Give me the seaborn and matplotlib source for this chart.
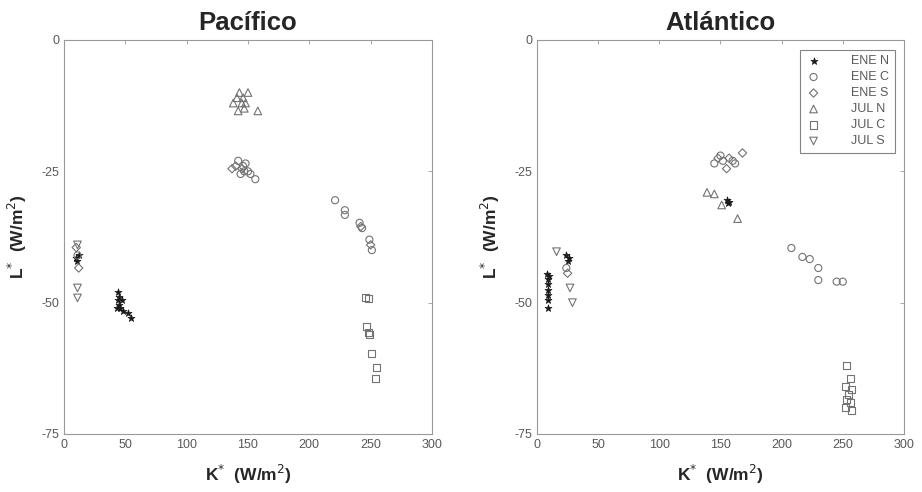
import numpy as np
import pandas as pd
import matplotlib
matplotlib.use("Agg")
import matplotlib.pyplot as plt
import seaborn as sns

# Pacífico
pac_ene_n_x = [10, 11, 12, 44, 44, 45, 46, 48, 52, 55, 43, 47, 45]
pac_ene_n_y = [-41.5, -42, -41, -48, -49.5, -50.5, -51, -51.5, -52, -53, -51, -49.5, -49]
pac_ene_c_x = [11, 142, 146, 148, 150, 144, 152, 156, 147, 221, 229, 229, 241, 243, 249, 251]
pac_ene_c_y = [-41, -23, -24, -23.5, -25, -25.5, -25.5, -26.5, -25, -30.5, -32.4, -33.3, -34.8, -35.8, -38, -40]
pac_ene_s_x = [12, 10, 137, 140, 145, 242, 250]
pac_ene_s_y = [-43.4, -39.5, -24.5, -24, -24.5, -35.5, -39]
pac_jul_n_x = [143, 150, 138, 141, 145, 148, 142, 147, 158, 146]
pac_jul_n_y = [-10, -10, -12, -11, -12, -12, -13.5, -13, -13.5, -11]
pac_jul_c_x = [246, 248, 247, 248, 249, 251, 255, 254]
pac_jul_c_y = [-49, -49.2, -54.6, -55.6, -56, -59.6, -62.4, -64.4]
pac_jul_s_x = [11, 11, 11]
pac_jul_s_y = [-39, -47.2, -49.1]

# Atlántico
atl_ene_n_x = [8, 9, 9, 9, 9, 9, 9, 10, 24, 26, 25, 155, 156, 157]
atl_ene_n_y = [-44.5, -45.5, -46.5, -47.5, -48.5, -49.5, -51, -45, -41, -41.5, -42, -30.5, -31, -30.8]
atl_ene_c_x = [150, 152, 160, 162, 145, 208, 217, 223, 230, 230, 245, 250, 24]
atl_ene_c_y = [-22, -23, -23, -23.5, -23.5, -39.6, -41.3, -41.7, -43.4, -45.7, -46, -46, -43.4]
atl_ene_s_x = [148, 155, 168, 157, 25]
atl_ene_s_y = [-22.5, -24.5, -21.5, -22.5, -44.4]
atl_jul_n_x = [139, 145, 151, 164]
atl_jul_n_y = [-29, -29.3, -31.4, -34]
atl_jul_c_x = [253, 256, 252, 257, 255, 253, 256, 252, 257]
atl_jul_c_y = [-62, -64.5, -66, -66.5, -67.5, -68.5, -69, -70, -70.5]
atl_jul_s_x = [16, 27, 29]
atl_jul_s_y = [-40.3, -47.2, -50]

groups = ["ENE N", "ENE C", "ENE S", "JUL N", "JUL C", "JUL S"]
markers = {"ENE N": "*", "ENE C": "o", "ENE S": "D", "JUL N": "^", "JUL C": "s", "JUL S": "v"}
sizes = {"ENE N": 28, "ENE C": 26, "ENE S": 18, "JUL N": 30, "JUL C": 26, "JUL S": 30}

pac = {
    "ENE N": (pac_ene_n_x, pac_ene_n_y), "ENE C": (pac_ene_c_x, pac_ene_c_y),
    "ENE S": (pac_ene_s_x, pac_ene_s_y), "JUL N": (pac_jul_n_x, pac_jul_n_y),
    "JUL C": (pac_jul_c_x, pac_jul_c_y), "JUL S": (pac_jul_s_x, pac_jul_s_y),
}
atl = {
    "ENE N": (atl_ene_n_x, atl_ene_n_y), "ENE C": (atl_ene_c_x, atl_ene_c_y),
    "ENE S": (atl_ene_s_x, atl_ene_s_y), "JUL N": (atl_jul_n_x, atl_jul_n_y),
    "JUL C": (atl_jul_c_x, atl_jul_c_y), "JUL S": (atl_jul_s_x, atl_jul_s_y),
}

sns.set_style("white")
plt.rcParams["font.family"] = ["Liberation Sans", "DejaVu Sans"]
plt.rcParams["axes.unicode_minus"] = False

fig = plt.figure(figsize=(9.22, 4.92), dpi=100)
ax1 = fig.add_axes([0.0694, 0.1179, 0.3991, 0.8008])
ax2 = fig.add_axes([0.5824, 0.1179, 0.3980, 0.8008])

spine_col = "0.6"
for ax, data, title in [(ax1, pac, "Pacífico"), (ax2, atl, "Atlántico")]:
    for g in groups:
        x, y = data[g]
        df = pd.DataFrame({"x": x, "y": y})
        if g == "ENE N":
            sns.scatterplot(data=df, x="x", y="y", ax=ax, marker=markers[g], s=sizes[g],
                            color="0.1", edgecolor="0.1", linewidth=0.5, label=g)
        else:
            sns.scatterplot(data=df, x="x", y="y", ax=ax, marker=markers[g], s=sizes[g],
                            facecolor="none", edgecolor="0.45", linewidth=0.8, label=g)
    ax.set_xlim(0, 300)
    ax.set_ylim(-75, 0)
    ax.set_xticks([0, 50, 100, 150, 200, 250, 300])
    ax.set_yticks([0, -25, -50, -75])
    ax.tick_params(direction="in", length=3, width=0.6, color=spine_col,
                   labelsize=9, labelcolor="0.35", top=True, right=True)
    for sp in ax.spines.values():
        sp.set_visible(True)
        sp.set_color(spine_col)
        sp.set_linewidth(0.8)
    ax.set_title(title, fontsize=18.5, fontweight="bold", pad=7)
    ax.set_xlabel("K$^{*}$  (W/m$^{2}$)", fontsize=12.5, fontweight="bold", labelpad=9)
    ax.set_ylabel("L$^{*}$  (W/m$^{2}$)", fontsize=12.5, fontweight="bold", labelpad=9)

ax1.get_legend().remove()
leg = ax2.legend(loc="upper right", fontsize=9, frameon=True, fancybox=False,
                 borderpad=0.45, handletextpad=2.4, labelspacing=0.32,
                 handlelength=1.2, borderaxespad=0.3, bbox_to_anchor=(0.985, 0.985))
leg.get_frame().set_edgecolor("0.4")
leg.get_frame().set_linewidth(0.8)
for t in leg.get_texts():
    t.set_color("0.35")

fig.savefig("out.png", dpi=100)
